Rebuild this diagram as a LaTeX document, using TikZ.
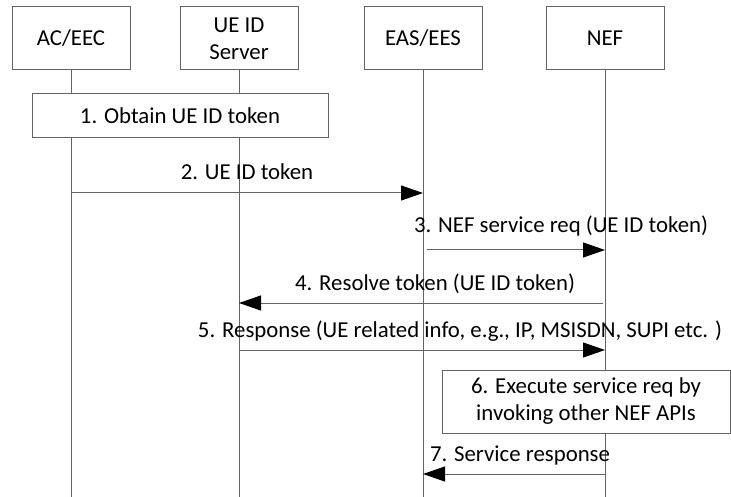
\documentclass[tikz,border=0pt]{standalone}
\usepackage{fontspec}
\setmainfont{Carlito}
\usetikzlibrary{arrows.meta}
\definecolor{linegray}{RGB}{100,100,100}
\tikzset{
  actor/.style={draw=linegray, line width=1pt, fill=white, minimum width=118pt, minimum height=63pt, align=center, inner sep=2pt},
  stepbox/.style={draw=linegray, line width=1pt, fill=white, align=center, inner sep=2pt},
  life/.style={draw=linegray, line width=1pt},
  msg/.style={draw=linegray, line width=1pt, -{Triangle[length=22pt,width=15pt,color=black]}},
  lbl/.style={inner sep=0pt},
  every node/.style={font=\fontsize{22.8}{27}\selectfont},
  every picture/.style={line cap=butt, line join=miter}
}

\begin{document}
\begin{tikzpicture}[x=1pt,y=-1pt]
  \useasboundingbox (0,0) rectangle (731,497);
  % lifeline heads
  \node[actor] (ac) at (71,38.5) {AC/EEC};
  \node[actor] (ue) at (239,38.5) {UE ID\\Server};
  \node[actor] (eas) at (423,38.5) {EAS/EES};
  \node[actor] (nef) at (605,38.5) {NEF};
  \coordinate (bottom) at (0,497);
  \foreach \n in {ac,ue,eas,nef}
    \draw[life] (\n.south) -- (\n |- bottom);

  % local steps
  \node[stepbox, minimum width=296pt, minimum height=44pt] (s1) at (180,116) {1. Obtain UE ID token};
  \node[stepbox, minimum width=288pt, minimum height=63pt] (s6) at (586,401.5) {6. Execute service req by\\invoking other NEF APIs};

  % messages
  \coordinate (y2) at (0,193);
  \coordinate (y3) at (0,250);
  \coordinate (y4) at (0,303);
  \coordinate (y5) at (0,350);
  \coordinate (y7) at (0,474);
  \draw[msg] (ac |- y2) -- (eas |- y2);
  \draw[msg] ([xshift=4pt]eas |- y3) -- (nef |- y3);
  \draw[msg] ([xshift=-2pt]nef |- y4) -- (ue |- y4);
  \draw[msg] (ue |- y5) -- (nef |- y5);
  \draw[msg] (nef |- y7) -- (eas |- y7);

  \node[lbl] (l2) at (247,172) {2. UE ID token};
  \node[lbl] (l3) at (561,226) {3. NEF service req (UE ID token)};
  \node[lbl] (l4) at (435,284) {4. Resolve token (UE ID token)};
  \node[lbl] (l5) at (460,331) {5. Response (UE related info, e.g., IP, MSISDN, SUPI etc. )};
  \node[lbl] (l7) at (520,455) {7. Service response};
\end{tikzpicture}
\end{document}
